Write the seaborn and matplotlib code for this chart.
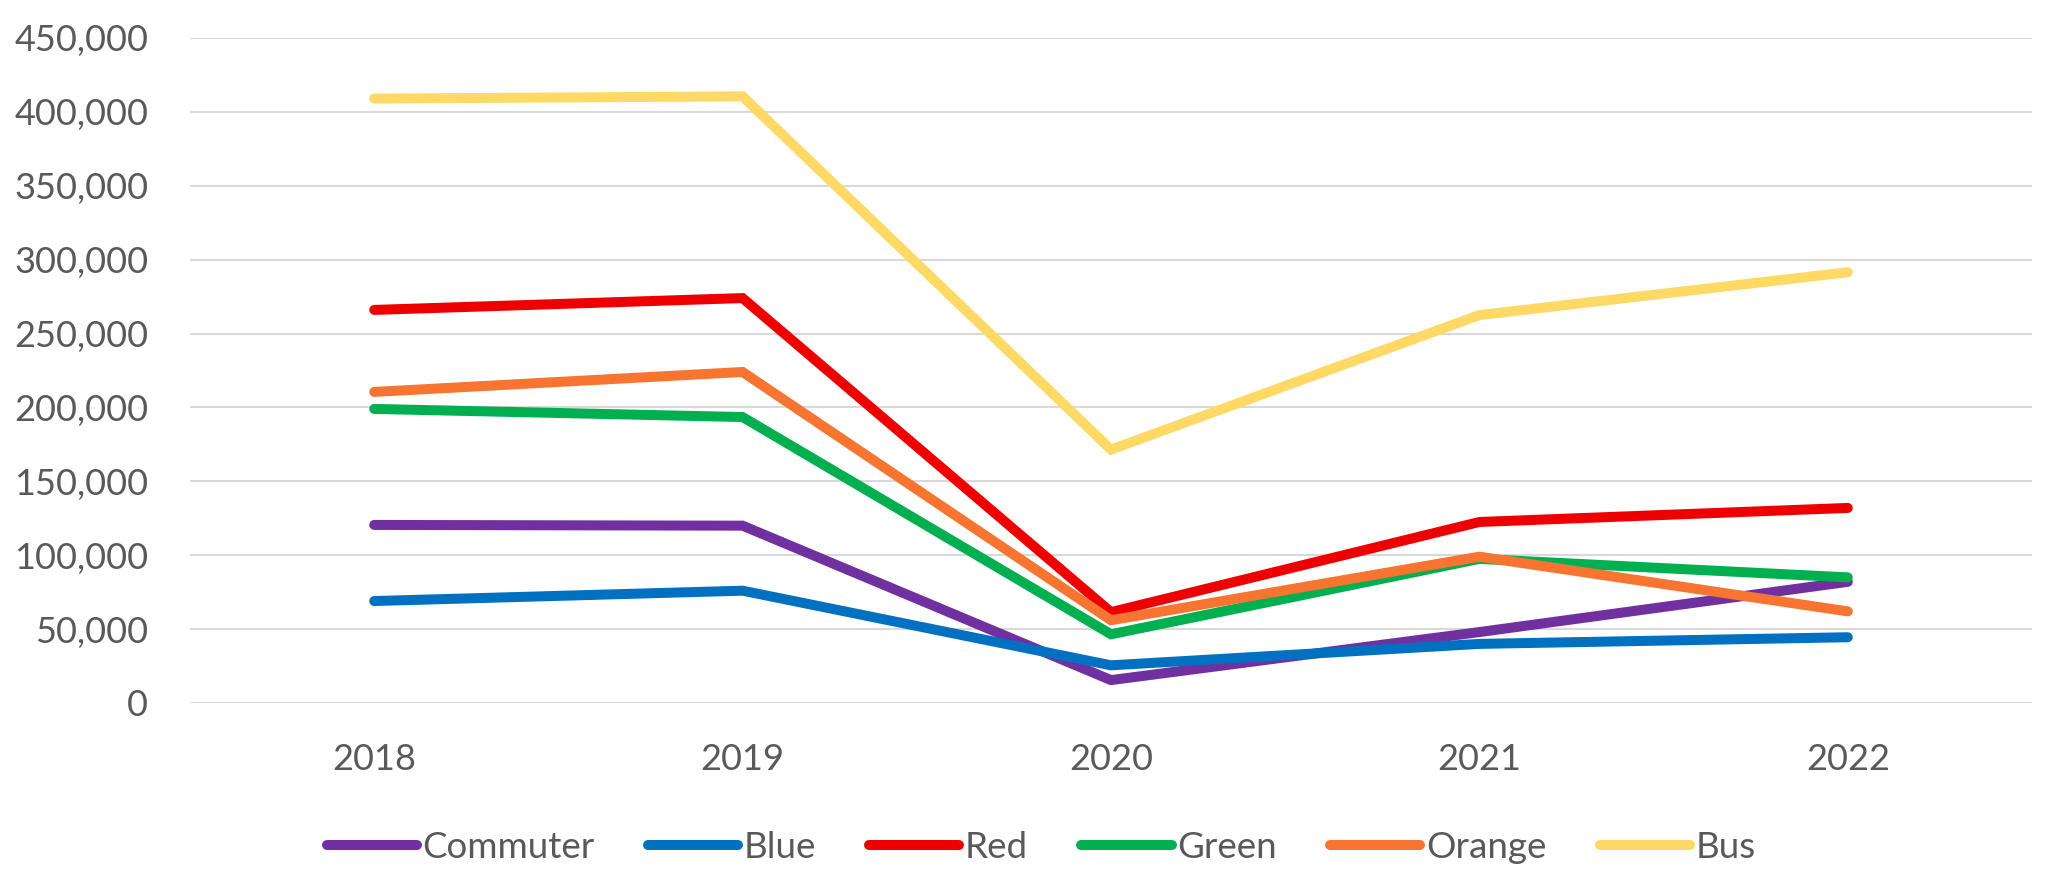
import matplotlib
matplotlib.use("Agg")
import matplotlib.pyplot as plt
import matplotlib.ticker as mticker
import seaborn as sns
import pandas as pd

years = ["2018", "2019", "2020", "2021", "2022"]
commuter = [120500, 120000, 15500, 48000, 82000]
blue = [69000, 76000, 25500, 40000, 44500]
red = [266000, 274000, 61500, 122500, 132000]
green = [199000, 193500, 46500, 97500, 85000]
orange = [210500, 224000, 56000, 99000, 62000]
bus = [409000, 410500, 171500, 262500, 291500]

series_names = ["Commuter", "Blue", "Red", "Green", "Orange", "Bus"]
series_values = [commuter, blue, red, green, orange, bus]
colors = ["#7030A0", "#0070C0", "#EE0000", "#00B050", "#F87431", "#FFD966"]

rows = []
for name, vals in zip(series_names, series_values):
    for y, v in zip(years, vals):
        rows.append({"Year": y, "Riders": v, "Line": name})
df = pd.DataFrame(rows)

sns.set_theme(style="white")
plt.rcParams["font.family"] = ["Lato", "DejaVu Sans"]

fig = plt.figure(figsize=(20.52, 8.84), dpi=100)
ax = fig.add_axes([190 / 2052, 1 - 703 / 884, (2032 - 190) / 2052, (703 - 38) / 884])

sns.lineplot(data=df, x="Year", y="Riders", hue="Line", hue_order=series_names,
             palette=dict(zip(series_names, colors)), linewidth=7.2, sort=False,
             ax=ax, solid_capstyle="round", zorder=3)
for ln in ax.get_lines():
    ln.set_solid_capstyle("round")
    ln.set_solid_joinstyle("miter")

ax.set_xlim(-0.5, 4.5)
ax.set_ylim(0, 450000)
ax.set_yticks(range(0, 450001, 50000))
ax.yaxis.set_major_formatter(mticker.FuncFormatter(lambda v, p: f"{int(v):,}"))
ax.grid(axis="y", color="#D9D9D9", linewidth=1.5, zorder=0)
ax.grid(axis="x", visible=False)
ax.set_axisbelow(True)
for s in ax.spines.values():
    s.set_visible(False)
ax.set_xlabel("")
ax.set_ylabel("")
ax.tick_params(axis="both", length=0, labelsize=26, labelcolor="#595959")
ax.tick_params(axis="y", pad=30)
ax.tick_params(axis="x", pad=29)

handles, labels = ax.get_legend_handles_labels()
ax.legend(handles, labels, loc="center", bbox_to_anchor=(1041 / 2052, 1 - 847 / 884),
          bbox_transform=fig.transFigure, ncol=6, frameon=False, fontsize=26.5,
          labelcolor="#595959", handlelength=2.45, handletextpad=0.15, columnspacing=1.45)

fig.savefig("out.png", dpi=100, facecolor="white")
